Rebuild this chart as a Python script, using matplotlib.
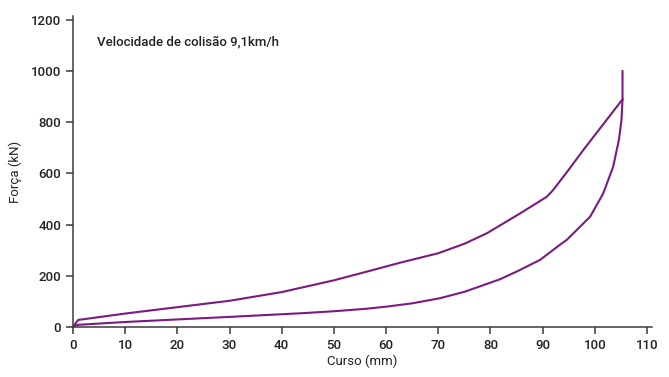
import matplotlib
matplotlib.use("Agg")
import matplotlib.pyplot as plt

# loading curve (curso mm, força kN)
carga_x = [0, 1, 10, 20, 30, 40, 50, 56.3, 62.7, 70, 75, 79.3, 85.7, 90.8, 92, 95, 97.8, 100, 105.3]
carga_y = [0, 27, 52, 77, 102, 136, 182, 216, 251, 288, 325, 366, 444, 509, 535, 615, 692, 750, 890]

# unloading curve
descarga_x = [105.3, 105.3, 105.1, 104.6, 103.5, 101.6, 99.1, 94.6, 93.3, 89.5, 85, 81.8,
              80, 75, 70.3, 65, 60, 56.3, 50, 43.5, 30, 20, 10, 1, 0]
descarga_y = [1000, 890, 809, 731, 626, 522, 431, 340, 321, 262, 216, 186,
              173, 137, 112, 92, 79, 71, 61, 53, 39, 29, 19, 8, 0]

x_ticks = [0, 10, 20, 30, 40, 50, 60, 70, 80, 90, 100, 110]
y_ticks = [0, 200, 400, 600, 800, 1000, 1200]

cor = "#7b1a80"
plt.rcParams["font.family"] = ["Roboto", "DejaVu Sans"]
plt.rcParams["font.weight"] = "medium"

fig = plt.figure(figsize=(6.69, 3.77), dpi=100)
ax = fig.add_axes([0.109, 0.133, 0.866, 0.824])
ax.plot(carga_x, carga_y, color=cor, lw=1.5, solid_joinstyle="round")
ax.plot(descarga_x, descarga_y, color=cor, lw=1.5, solid_joinstyle="round")

ax.set_xlim(0, 111)
ax.set_ylim(0, 1215)
ax.set_xticks(x_ticks)
ax.set_yticks(y_ticks)
for s in ["top", "right"]:
    ax.spines[s].set_visible(False)
for s in ["left", "bottom"]:
    ax.spines[s].set_color("#3a3a3a")
    ax.spines[s].set_linewidth(1.1)
ax.tick_params(colors="#3a3a3a", labelcolor="#222222", labelsize=9.5, length=5, width=1.1)
ax.set_xlabel("Curso (mm)", fontsize=9.5, color="#222222", labelpad=2)
ax.set_ylabel("Força (kN)", fontsize=9.5, color="#222222", labelpad=6)
ax.text(4.6, 1114, "Velocidade de colisão 9,1km/h", fontsize=9.5, color="#222222",
        va="center", ha="left")

fig.savefig("out.png", dpi=100)
